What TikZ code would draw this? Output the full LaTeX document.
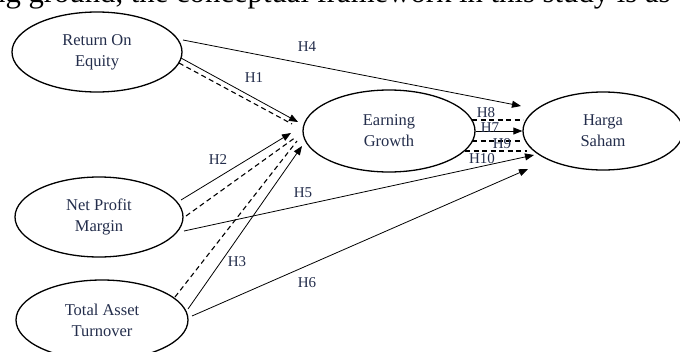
\documentclass[tikz,border=0pt]{standalone}
\usepackage{fontspec}
\setmainfont{Liberation Serif}
\usetikzlibrary{shapes.geometric,arrows.meta,calc}
\definecolor{inktext}{RGB}{35,45,75}
\begin{document}
\begin{tikzpicture}[x=1pt,y=-1pt,
  construct/.style={ellipse,draw=black,line width=1.3pt,inner sep=0pt,align=center,
    text=inktext,font=\fontsize{16.5}{21}\selectfont},
  link/.style={line width=0.8pt,-{Triangle[length=9pt,width=7pt]}},
  dlink/.style={line width=1.1pt,dash pattern=on 5pt off 3.5pt},
  hyp/.style={text=inktext,font=\fontsize{15}{15}\selectfont,inner sep=0pt}]
\useasboundingbox (0,0) rectangle (680,351);

% running text of the page above the figure, only its lower edge falls inside
\begin{scope}
\clip (-20,-40) rectangle (700,10);
\node[anchor=base west,inner sep=0pt,font=\fontsize{30.7}{36}\selectfont] (intro) at (-10,2)
  {ng ground, the conceptual framework in this study is as};
\end{scope}

% constructs
\node[construct,minimum width=170pt,minimum height=80pt] (roe) at (97,52) {Return On\\Equity};
\node[construct,minimum width=168pt,minimum height=80pt] (npm) at (99,217) {Net Profit\\Margin};
\node[construct,minimum width=172pt,minimum height=80pt] (tat) at (102,320) {Total Asset\\Turnover};
\node[construct,minimum width=172pt,minimum height=82pt] (eg) at (389,131) {Earning\\Growth};
\node[construct,minimum width=160pt,minimum height=78pt] (hs) at (603,131) {Harga\\Saham};

% direct effects
\draw[link] ($(roe)+(86,-12)$) -- ($(hs)+(-82,-25)$);
\draw[link] ($(roe)+(84,6)$) -- ($(eg)+(-91,-9)$);
\draw[link] ($(npm)+(82,-17)$) -- ($(eg)+(-98,2)$);
\draw[link] ($(npm)+(85,14)$) -- ($(hs)+(-69,24)$);
\draw[link] ($(tat)+(86,-11)$) -- ($(eg)+(-87,15)$);
\draw[link] ($(tat)+(90,-4)$) -- ($(hs)+(-75,38)$);
\draw[link] (eg.east) -- (hs.west);

% mediated paths
\draw[dlink] ($(roe)+(82,11)$) -- ($(eg)+(-97,-7)$);
\draw[dlink] ($(npm)+(87,-1)$) -- ($(eg)+(-93,6)$);
\draw[dlink] ($(tat)+(73,-23)$) -- ($(eg)+(-92,10)$);
\draw[dlink] ($(eg)+(83,-11)$) -- ($(hs)+(-80,-11)$);
\draw[dlink] ($(eg)+(83,10)$) -- ($(hs)+(-83,10)$);
\draw[dlink] ($(eg)+(76,20)$) -- ($(hs)+(-76,20)$);

% hypothesis labels
\node[hyp] (h1) at (254,78) {H1};
\node[hyp] (h2) at (218,160) {H2};
\node[hyp] (h3) at (237,262) {H3};
\node[hyp] (h4) at (307,47) {H4};
\node[hyp] (h5) at (303,193) {H5};
\node[hyp] (h6) at (307,283) {H6};
\node[hyp] (h7) at (490,128) {H7};
\node[hyp] (h8) at (486,113) {H8};
\node[hyp] (h9) at (502,144) {H9};
\node[hyp] (h10) at (482,159) {H10};
\end{tikzpicture}
\end{document}
